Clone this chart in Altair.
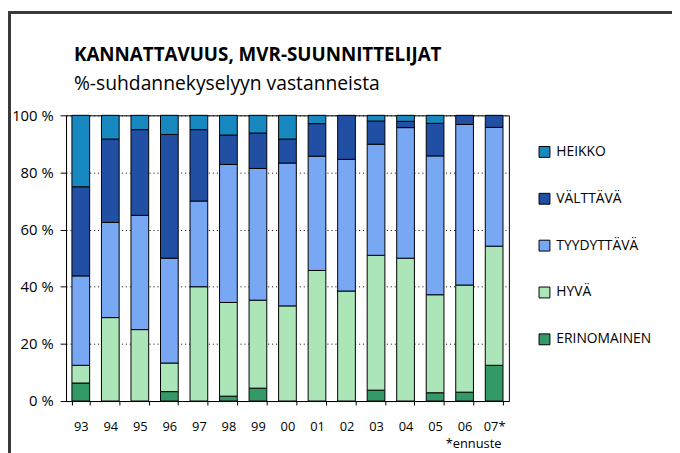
import altair as alt
import pandas as pd

years = ["93", "94", "95", "96", "97", "98", "99", "00", "01", "02", "03", "04", "05", "06", "07*"]
categories = ["HEIKKO", "VÄLTTÄVÄ", "TYYDYTTÄVÄ", "HYVÄ", "ERINOMAINEN"]
colors = ["#1889C0", "#214FA3", "#78A7F4", "#ABE5B8", "#339966"]

erinomainen = [6.3, 0, 0, 3.3, 0, 1.7, 4.5, 0, 0, 0, 3.8, 0, 2.9, 3.1, 12.5]
hyva = [6.2, 29.2, 25, 10, 40, 32.8, 30.8, 33.3, 45.7, 38.5, 47.2, 50, 34.3, 37.5, 41.7]
tyydyttava = [31.3, 33.3, 40, 36.7, 30, 48.3, 46.1, 50, 40, 46.1, 38.9, 45.7, 48.6, 56.2, 41.6]
valttava = [31.2, 29.2, 30, 43.3, 25, 10.3, 12.4, 8.4, 11.4, 15.4, 8.1, 2.2, 11.4, 3.2, 4.2]
heikko = [25, 8.3, 5, 6.7, 5, 6.9, 6.2, 8.3, 2.9, 0, 2.0, 2.1, 2.8, 0, 0]

series = {
    "ERINOMAINEN": erinomainen,
    "HYVÄ": hyva,
    "TYYDYTTÄVÄ": tyydyttava,
    "VÄLTTÄVÄ": valttava,
    "HEIKKO": heikko,
}
stack_order = ["ERINOMAINEN", "HYVÄ", "TYYDYTTÄVÄ", "VÄLTTÄVÄ", "HEIKKO"]

rows = []
for name, vals in series.items():
    for y, v in zip(years, vals):
        if v > 0:
            rows.append({"vuosi": y, "luokka": name, "osuus": v, "jarj": stack_order.index(name)})
df = pd.DataFrame(rows)

FONT = "Open Sans"
W, H = 448, 289

bars = alt.Chart(df).mark_bar(stroke="black", strokeWidth=1).encode(
    x=alt.X("vuosi:N", sort=years,
            scale=alt.Scale(paddingInner=0.4, paddingOuter=0.2),
            axis=alt.Axis(title="*ennuste", titleAnchor="end", titleAlign="right",
                          titleFontWeight="normal", titleFontSize=13, titleFont=FONT,
                          titleX=440, titlePadding=4,
                          labelAngle=0, tickBand="extent", labelFontSize=13, labelFont=FONT,
                          labelPadding=16, tickSize=4, tickColor="black",
                          domainColor="black", labelColor="black", titleColor="black")),
    y=alt.Y("osuus:Q", stack="zero",
            scale=alt.Scale(domain=[0, 100], nice=False),
            axis=alt.Axis(title=None, values=[0, 20, 40, 60, 80, 100],
                          labelExpr="datum.value + ' %'", labelFontSize=15, labelFont=FONT,
                          labelPadding=7, tickSize=6, tickColor="black",
                          domainColor="black", labelColor="black",
                          grid=True, gridColor="black", gridDash=[1, 3], gridWidth=1)),
    color=alt.Color("luokka:N",
                    scale=alt.Scale(domain=categories, range=colors),
                    legend=alt.Legend(title=None, orient="none", legendX=477, legendY=30,
                                      symbolType="square", symbolSize=121,
                                      symbolStrokeColor="black", symbolStrokeWidth=1,
                                      labelFontSize=14, labelFont=FONT, labelColor="black",
                                      rowPadding=31.4, labelOffset=5)),
    order=alt.Order("jarj:Q"),
)

frame_top = alt.Chart(df).mark_rule(color="#3a3a3a", strokeWidth=2).encode(
    x=alt.value(-58), x2=alt.value(640), y=alt.value(-104)
)
frame_left = alt.Chart(df).mark_rule(color="#3a3a3a", strokeWidth=2).encode(
    x=alt.value(-57.5), y=alt.value(-104), y2=alt.value(360)
)

chart = alt.layer(bars, frame_top, frame_left).properties(
    width=W, height=H,
    autosize=alt.AutoSizeParams(type="none"),
    padding={"left": 58.7, "top": 106, "right": 165, "bottom": 50},
    title=alt.Title("KANNATTAVUUS, MVR-SUUNNITTELIJAT",
                    subtitle="%-suhdannekyselyyn vastanneista",
                    anchor="start", frame="group", dx=8, offset=-83,
                    font=FONT, fontSize=19, fontWeight="bold", color="black",
                    subtitleFont=FONT, subtitleFontSize=19.5, subtitleColor="black",
                    subtitlePadding=10),
).configure_view(stroke="black", strokeWidth=1)

chart.save("out.html", embed_options={"renderer": "svg", "actions": False})
